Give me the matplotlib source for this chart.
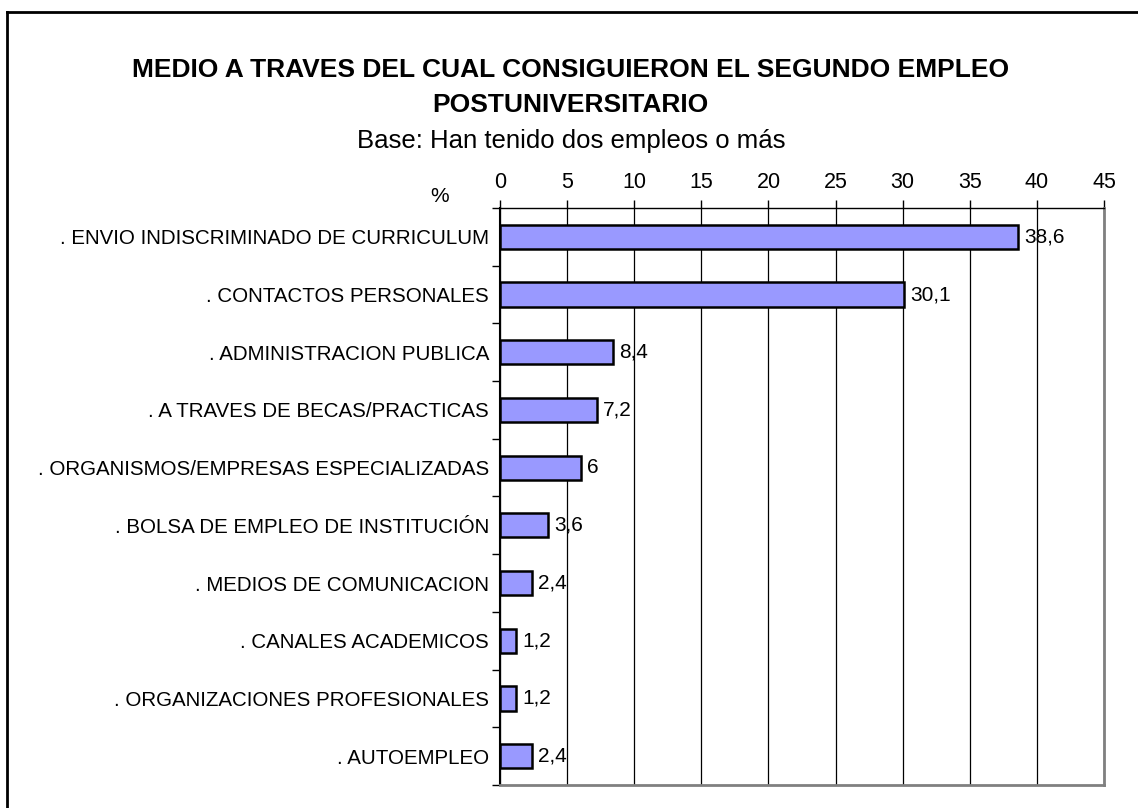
import matplotlib.pyplot as plt
from matplotlib.lines import Line2D

plt.rcParams['font.family'] = ['Liberation Sans', 'DejaVu Sans']

# Data
categories = [
    ". ENVIO INDISCRIMINADO DE CURRICULUM",
    ". CONTACTOS PERSONALES",
    ". ADMINISTRACION PUBLICA",
    ". A TRAVES DE BECAS/PRACTICAS",
    ". ORGANISMOS/EMPRESAS ESPECIALIZADAS",
    ". BOLSA DE EMPLEO DE INSTITUCIÓN",
    ". MEDIOS DE COMUNICACION",
    ". CANALES ACADEMICOS",
    ". ORGANIZACIONES PROFESIONALES",
    ". AUTOEMPLEO",
]
values = [38.6, 30.1, 8.4, 7.2, 6, 3.6, 2.4, 1.2, 1.2, 2.4]
value_labels = ["38,6", "30,1", "8,4", "7,2", "6", "3,6", "2,4", "1,2", "1,2", "2,4"]
x_ticks = list(range(0, 50, 5))

fig = plt.figure(figsize=(11.38, 8.08), dpi=100)
ax = fig.add_axes([0.4394, 0.0285, 0.5307, 0.7141])

y = range(len(categories))
ax.barh(y, values, height=0.42, color='#9999FF', edgecolor='black', linewidth=1.8, zorder=3)
for yi, v, lab in zip(y, values, value_labels):
    ax.text(v + 0.45, yi, lab, va='center', ha='left', fontsize=15, zorder=4)

ax.set_xlim(0, 45)
ax.set_ylim(len(categories) - 0.5, -0.5)
ax.xaxis.tick_top()
ax.set_xticks(x_ticks)
ax.set_xticklabels([str(t) for t in x_ticks], fontsize=15.5)
ax.tick_params(axis='x', direction='out', length=6, width=1, pad=5)
ax.set_yticks(list(y))
ax.set_yticklabels(categories, fontsize=14.8)
ax.tick_params(axis='y', length=0, pad=8)
ax.set_yticks([i - 0.5 for i in range(len(categories) + 1)], minor=True)
ax.tick_params(axis='y', which='minor', length=6, width=1, direction='out')
ax.xaxis.grid(True, color='black', linewidth=0.9, zorder=0)
ax.set_axisbelow(True)

ax.spines['top'].set_color('black')
ax.spines['top'].set_linewidth(1)
ax.spines['left'].set_linewidth(1.5)
ax.spines['right'].set_color('#808080')
ax.spines['right'].set_linewidth(2)
ax.spines['bottom'].set_color('#808080')
ax.spines['bottom'].set_linewidth(2)

fig.text(0.501, 0.913, "MEDIO A TRAVES DEL CUAL CONSIGUIERON EL SEGUNDO EMPLEO",
         ha='center', va='center', fontsize=19, fontweight='bold')
fig.text(0.501, 0.870, "POSTUNIVERSITARIO",
         ha='center', va='center', fontsize=19, fontweight='bold')
fig.text(0.502, 0.825, "Base: Han tenido dos empleos o más",
         ha='center', va='center', fontsize=18.5)
fig.text(0.386, 0.757, "%", ha='center', va='center', fontsize=15)

# outer frame (only top and left edges fall inside the picture)
fy = 1 - 11.5 / 808
fx = 7 / 1138
fig.add_artist(Line2D([fx, 1.0], [fy, fy], transform=fig.transFigure, color='black', linewidth=2))
fig.add_artist(Line2D([fx, fx], [0.0, fy], transform=fig.transFigure, color='black', linewidth=2))

fig.savefig("out.png", dpi=100)
